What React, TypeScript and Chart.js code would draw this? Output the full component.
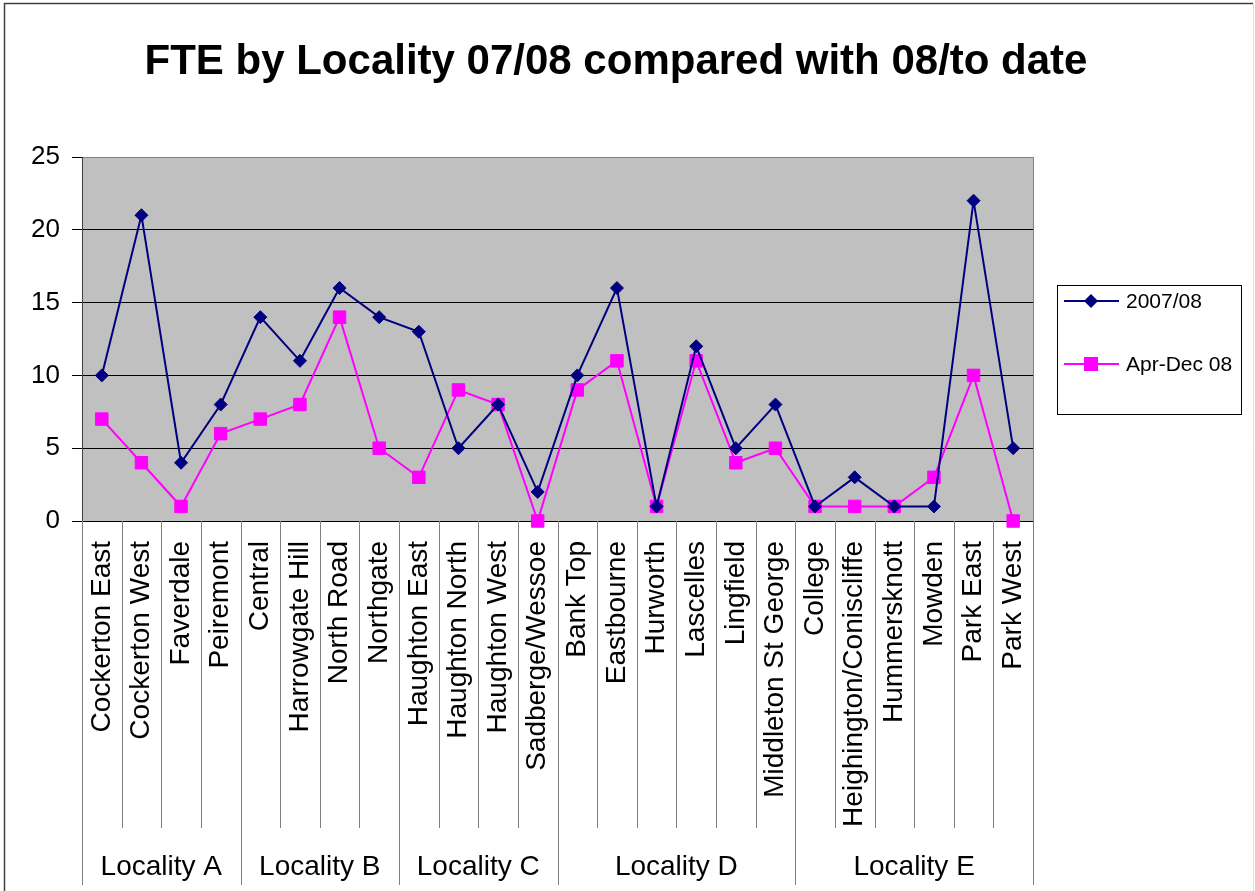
import React, { useEffect, useRef } from "react";
import { Chart, registerables } from "chart.js";

Chart.register(...registerables);

const TITLE = "FTE by Locality 07/08 compared with 08/to date";

const categories = [
  "Cockerton East", "Cockerton West", "Faverdale", "Peiremont",
  "Central", "Harrowgate Hill", "North Road", "Northgate",
  "Haughton East", "Haughton North", "Haughton West", "Sadberge/Wessoe",
  "Bank Top", "Eastbourne", "Hurworth", "Lascelles", "Lingfield", "Middleton St George",
  "College", "Heighington/Coniscliffe", "Hummersknott", "Mowden", "Park East", "Park West",
];

const groupNames = ["Locality A", "Locality B", "Locality C", "Locality D", "Locality E"];
const groupSizes = [4, 4, 4, 6, 6];

const series2007 = [10, 21, 4, 8, 14, 11, 16, 14, 13, 5, 8, 2, 10, 16, 1, 12, 5, 8, 1, 3, 1, 1, 22, 5];
const seriesAprDec = [7, 4, 1, 6, 7, 8, 14, 5, 3, 9, 8, 0, 9, 11, 1, 11, 4, 5, 1, 1, 1, 3, 10, 0];

const seriesNames = ["2007/08", "Apr-Dec 08"];
const yTicks = [0, 5, 10, 15, 20, 25];

const FONT = "'Liberation Sans', Arial, sans-serif";
const W = 1255;
const H = 891;

const decorPlugin = {
  id: "decor",
  beforeDraw(chart: any) {
    const { ctx, chartArea } = chart;
    ctx.save();
    ctx.fillStyle = "#ffffff";
    ctx.fillRect(0, 0, W, H);
    ctx.fillStyle = "#C0C0C0";
    ctx.fillRect(chartArea.left, chartArea.top, chartArea.right - chartArea.left, chartArea.bottom - chartArea.top);
    ctx.restore();
  },
  afterDraw(chart: any) {
    const { ctx, chartArea } = chart;
    const xs = chart.scales.x;
    const n = categories.length;
    const step = (chartArea.right - chartArea.left) / n;
    ctx.save();
    // plot border
    ctx.strokeStyle = "#808080";
    ctx.lineWidth = 1;
    ctx.beginPath();
    ctx.moveTo(chartArea.right + 0.5, chartArea.top);
    ctx.lineTo(chartArea.right + 0.5, chartArea.bottom);
    ctx.stroke();
    ctx.strokeStyle = "#404040";
    ctx.beginPath();
    ctx.moveTo(chartArea.left + 0.5, chartArea.top);
    ctx.lineTo(chartArea.left + 0.5, chartArea.bottom);
    ctx.stroke();

    // category separators
    const groupBounds = new Set<number>();
    let acc = 0;
    groupBounds.add(0);
    for (const g of groupSizes) { acc += g; groupBounds.add(acc); }
    ctx.strokeStyle = "#808080";
    for (let i = 0; i <= n; i++) {
      const px = Math.round(xs.getPixelForValue(i) - step / 2) + 0.5;
      const bottom = groupBounds.has(i) ? 885 : 828;
      ctx.beginPath();
      ctx.moveTo(px, chartArea.bottom);
      ctx.lineTo(px, bottom);
      ctx.stroke();
    }
    // group labels
    ctx.fillStyle = "#000";
    ctx.font = `28px ${FONT}`;
    ctx.textAlign = "center";
    ctx.textBaseline = "alphabetic";
    let start = 0;
    groupNames.forEach((name, gi) => {
      const end = start + groupSizes[gi];
      const x0 = xs.getPixelForValue(start) - step / 2;
      const x1 = xs.getPixelForValue(end - 1) + step / 2;
      ctx.fillText(name, (x0 + x1) / 2, 875);
      start = end;
    });

    // title
    ctx.font = `bold 42px ${FONT}`;
    ctx.fillText(TITLE, 616, 74);

    // legend
    const lx = 1057, ly = 285, lw = 184, lh = 129;
    ctx.strokeStyle = "#000";
    ctx.lineWidth = 1;
    ctx.strokeRect(lx + 0.5, ly + 0.5, lw, lh);
    const rows = [301, 364];
    const colors = ["#000080", "#FF00FF"];
    ctx.font = `21px ${FONT}`;
    ctx.textAlign = "left";
    ctx.textBaseline = "middle";
    rows.forEach((ry, i) => {
      ctx.strokeStyle = colors[i];
      ctx.lineWidth = 2;
      ctx.beginPath();
      ctx.moveTo(1064, ry);
      ctx.lineTo(1119, ry);
      ctx.stroke();
      ctx.fillStyle = colors[i];
      ctx.beginPath();
      if (i === 0) {
        ctx.moveTo(1091, ry - 7);
        ctx.lineTo(1098, ry);
        ctx.lineTo(1091, ry + 7);
        ctx.lineTo(1084, ry);
        ctx.closePath();
      } else {
        ctx.rect(1084, ry - 7, 14, 14);
      }
      ctx.fill();
      ctx.fillStyle = "#000";
      ctx.fillText(seriesNames[i], 1126, ry + 1);
    });

    // outer frame
    ctx.strokeStyle = "#404040";
    ctx.lineWidth = 1.5;
    ctx.beginPath();
    ctx.moveTo(4.5, H);
    ctx.lineTo(4.5, 3.5);
    ctx.lineTo(W - 2, 3.5);
    ctx.stroke();
    ctx.strokeStyle = "#e0e0e0";
    ctx.lineWidth = 1;
    ctx.beginPath();
    ctx.moveTo(W - 1.5, 4);
    ctx.lineTo(W - 1.5, H);
    ctx.stroke();
    ctx.restore();
  },
};

export default function App() {
  const ref = useRef<HTMLCanvasElement | null>(null);
  useEffect(() => {
    document.body.style.margin = "0";
    if (!ref.current) return;
    const chart = new Chart(ref.current, {
      type: "line",
      data: {
        labels: categories,
        datasets: [
          {
            label: seriesNames[0],
            data: series2007,
            borderColor: "#000080",
            backgroundColor: "#000080",
            borderWidth: 2,
            pointStyle: "rectRot",
            pointRadius: 6.5,
            pointBorderWidth: 1,
            tension: 0,
            clip: false,
          } as any,
          {
            label: seriesNames[1],
            data: seriesAprDec,
            borderColor: "#FF00FF",
            backgroundColor: "#FF00FF",
            borderWidth: 2,
            pointStyle: "rect",
            pointRadius: 8.8,
            pointBorderWidth: 1,
            tension: 0,
            clip: false,
          } as any,
        ],
      },
      options: {
        animation: false,
        responsive: false,
        devicePixelRatio: 1,
        layout: { padding: { top: 157, right: 222, left: 0, bottom: 0 } },
        plugins: {
          legend: { display: false },
          title: { display: false },
          tooltip: { enabled: false },
        },
        scales: {
          x: {
            type: "category",
            offset: true,
            grid: { display: false },
            border: { display: false },
            ticks: {
              autoSkip: false,
              maxRotation: 90,
              minRotation: 90,
              padding: 12,
              color: "#000",
              font: { family: FONT, size: 28 },
            },
            afterFit: (s: any) => { s.height = H - 521; },
          },
          y: {
            min: 0,
            max: 25,
            afterBuildTicks: (s: any) => { s.ticks = yTicks.map((v) => ({ value: v })); },
            grid: {
              color: (c: any) => (c.tick && c.tick.value === 25 ? "#808080" : "#000"),
              tickColor: "#000",
              tickLength: 10,
              lineWidth: 1,
            },
            border: { display: true, color: "#404040" },
            ticks: {
              padding: 12,
              color: "#000",
              font: { family: FONT, size: 26 },
            },
            afterFit: (s: any) => { s.width = 82; },
          },
        },
      },
      plugins: [decorPlugin],
    });
    return () => chart.destroy();
  }, []);
  return (
    <div style={{ width: W, height: H }}>
      <canvas ref={ref} width={W} height={H} style={{ display: "block" }} />
    </div>
  );
}
